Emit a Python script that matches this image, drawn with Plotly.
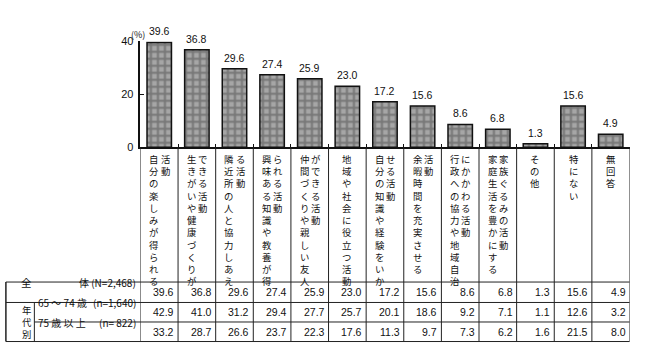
import plotly.graph_objects as go

# figure size that is shown 1:1 in the screenshot
FW, FH = 630, 348
# reference-pixel -> figure-pixel scale (reference content spans up to x=641, y=361)
SX = 629.5 / 641
SY = 347.5 / 361

# ---- data ----
categories = [
    "自分の楽しみが得られる|活動",
    "生きがいや健康づくりが|できる活動",
    "隣近所の人と協力しあえ|る活動",
    "興味ある知識や教養が得|られる活動",
    "仲間づくりや親しい友人|ができる活動",
    "地域や社会に役立つ活動",
    "自分の知識や経験をいか|せる活動",
    "余暇時間を充実させる|活動",
    "行政への協力や地域自治|にかかわる活動",
    "家庭生活を豊かにする|家族ぐるみの活動",
    "その他",
    "特にない",
    "無回答",
]
total = [39.6, 36.8, 29.6, 27.4, 25.9, 23.0, 17.2, 15.6, 8.6, 6.8, 1.3, 15.6, 4.9]
age_65_74 = [42.9, 41.0, 31.2, 29.4, 27.7, 25.7, 20.1, 18.6, 9.2, 7.1, 1.1, 12.6, 3.2]
age_75_up = [33.2, 28.7, 26.6, 23.7, 22.3, 17.6, 11.3, 9.7, 7.3, 6.2, 1.6, 21.5, 8.0]
y_ticks = [0, 20, 40]
unit_label = "(%)"
row_total_head = "全"
row_total_label = "体 (N=2,468)"
group_label = "年代別"
row1_label = ("65 ～ 74 歳", "(n=1,640)")
row2_label = ("75 歳 以 上", "(n= 822)")

# ---- helpers (reference pixel -> paper fraction) ----
def px(x):
    return min(max(x * SX / FW, 0.0), 1.0)

def py(y):
    return min(max(1 - y * SY / FH, 0.0), 1.0)

FONT = "Liberation Sans, Noto Sans CJK JP, sans-serif"
JFONT = "Noto Sans CJK JP, sans-serif"
LINE = "#222222"
TXT = "#111111"

n = len(categories)
xs = list(range(n))

fig = go.Figure()
fig.add_trace(go.Bar(
    x=xs, y=total, width=0.65,
    marker=dict(
        color="#8a8a8a",
        line=dict(color="#111111", width=1.5),
        pattern=dict(shape="+", fgcolor="#484848", bgcolor="#a6a6a6", size=7, solidity=0.5),
    ),
    hoverinfo="skip",
))

annotations = []
shapes = []

# value labels above bars
for i, v in enumerate(total):
    annotations.append(dict(x=i, y=v, xref="x", yref="y", text=f"{v:.1f}", showarrow=False,
                            yanchor="bottom", yshift=3, font=dict(family=FONT, size=10.5, color=TXT)))

# unit label
annotations.append(dict(x=px(131), y=py(21), xref="paper", yref="paper", text=unit_label, showarrow=False,
                        font=dict(family=JFONT, size=9, color=TXT)))

# vertical category labels (one stacked text per column)
for i, cat in enumerate(categories):
    cols = cat.split("|")
    offs = [0] if len(cols) == 1 else [-5, 6]
    for txt, off in zip(cols, offs):
        annotations.append(dict(x=i, y=py(155), xref="x", yref="paper", xshift=off,
                                text="<br>".join(txt), showarrow=False, xanchor="center", yanchor="top",
                                align="center", font=dict(family=JFONT, size=9.4, color=TXT)))

# separators in label area and table
y_bottom = 361
for k in range(n + 1):
    shapes.append(dict(type="line", xref="x", yref="paper", x0=k - 0.5, x1=k - 0.5,
                       y0=py(152), y1=py(y_bottom), line=dict(color=LINE, width=1)))
x_left = 6
x_right = 641
for (y, x0) in [(297, x_left), (319, x_left), (340, 35), (y_bottom, x_left)]:
    shapes.append(dict(type="line", xref="paper", yref="paper", x0=px(x0), x1=px(x_right),
                       y0=py(y), y1=py(y), line=dict(color=LINE, width=1)))
shapes.append(dict(type="line", xref="paper", yref="paper", x0=px(x_left), x1=px(x_left),
                   y0=py(297), y1=py(y_bottom), line=dict(color=LINE, width=1.5)))
shapes.append(dict(type="line", xref="paper", yref="paper", x0=px(35), x1=px(35),
                   y0=py(319), y1=py(y_bottom), line=dict(color=LINE, width=1)))

# table values
row_centers = [308, 329.5, 350.5]
for r, vals in enumerate([total, age_65_74, age_75_up]):
    for i, v in enumerate(vals):
        annotations.append(dict(x=i + 0.5, y=py(row_centers[r]), xref="x", yref="paper", xshift=-2,
                                text=f"{v:.1f}", showarrow=False, xanchor="right", yanchor="middle",
                                font=dict(family=FONT, size=10.5, color=TXT)))

# row headers
annotations.append(dict(x=px(19), y=py(308), xref="paper", yref="paper", text=row_total_head, showarrow=False,
                        font=dict(family=JFONT, size=10.5, color=TXT)))
annotations.append(dict(x=px(141), y=py(308), xref="paper", yref="paper", text=row_total_label, showarrow=False,
                        xanchor="right", font=dict(family=JFONT, size=10, color=TXT)))
annotations.append(dict(x=px(20.5), y=py(340), xref="paper", yref="paper", text="<br>".join(group_label),
                        showarrow=False, yanchor="middle", font=dict(family=JFONT, size=9.4, color=TXT)))
for yc, (a, b) in [(329.5, row1_label), (350.5, row2_label)]:
    annotations.append(dict(x=px(37), y=py(yc), xref="paper", yref="paper", text=a, showarrow=False,
                            xanchor="left", font=dict(family=JFONT, size=10, color=TXT)))
    annotations.append(dict(x=px(141), y=py(yc), xref="paper", yref="paper", text=b, showarrow=False,
                            xanchor="right", font=dict(family=JFONT, size=10, color=TXT)))

fig.update_layout(
    width=FW, height=FH,
    margin=dict(l=0, r=0, t=0, b=0, pad=0),
    paper_bgcolor="white", plot_bgcolor="white",
    showlegend=False,
    xaxis=dict(domain=[px(143), px(x_right)], range=[-0.5, n - 0.5],
               showline=True, linecolor="#111", linewidth=1.5,
               tickvals=[k + 0.5 for k in range(n)], ticks="inside", ticklen=4, tickcolor="#111",
               showticklabels=False, showgrid=False, zeroline=False, fixedrange=True),
    yaxis=dict(domain=[py(152), py(38)], range=[0, 40],
               tickvals=y_ticks, ticks="inside", ticklen=4, tickcolor="#111",
               showline=True, linecolor="#111", linewidth=1.5,
               showgrid=False, zeroline=False, ticklabelstandoff=3,
               tickfont=dict(family=FONT, size=11, color=TXT), fixedrange=True),
    annotations=annotations,
    shapes=shapes,
)

fig.write_html("out.html", config={"displayModeBar": False})
